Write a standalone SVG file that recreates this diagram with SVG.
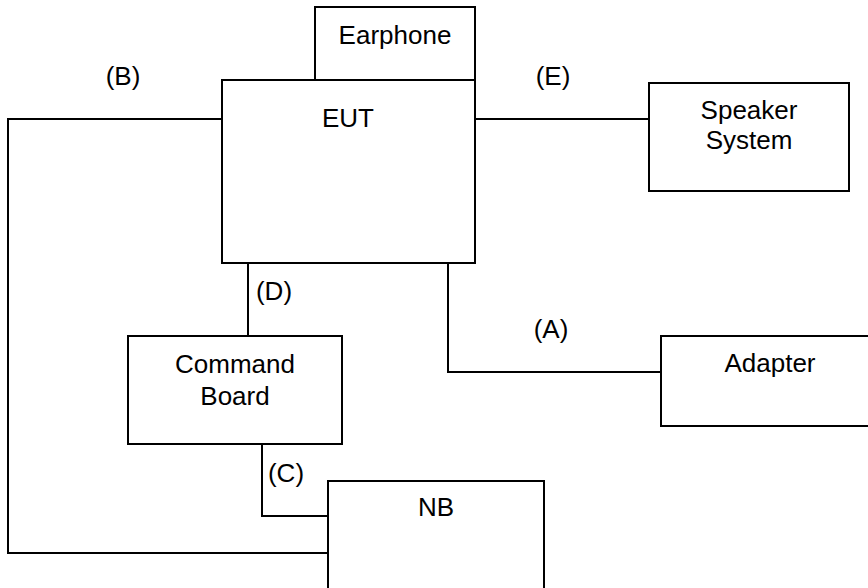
<svg xmlns="http://www.w3.org/2000/svg" width="868" height="588" viewBox="0 0 868 588">
<style>
.box{fill:#fff;stroke:#000;stroke-width:2}
.ln{fill:none;stroke:#000;stroke-width:2}
text{font-family:"Liberation Sans",Arial,sans-serif;font-size:26px;fill:#000;text-anchor:middle}
</style>
<rect width="868" height="588" fill="#fff"/>
<g id="connectors">
<polyline class="ln" points="222,119 8,119 8,553 328,553"/>
<line class="ln" x1="475" y1="119" x2="649" y2="119"/>
<line class="ln" x1="248" y1="263" x2="248" y2="336"/>
<polyline class="ln" points="262,444 262,516 328,516"/>
<polyline class="ln" points="448,263 448,372 661,372"/>
<text x="123" y="85">(B)</text>
<text x="553" y="85">(E)</text>
<text x="274" y="300">(D)</text>
<text x="551" y="338">(A)</text>
<text x="286" y="482">(C)</text>
</g>
<g id="earphone">
<rect class="box" x="315" y="7" width="160" height="73"/>
<text x="395" y="44">Earphone</text>
</g>
<g id="eut">
<rect class="box" x="222" y="80" width="253" height="183"/>
<text x="348" y="127">EUT</text>
</g>
<g id="speaker">
<rect class="box" x="649" y="83" width="200" height="108"/>
<text x="749" y="119">Speaker</text>
<text x="749" y="149">System</text>
</g>
<g id="command-board">
<rect class="box" x="128" y="336" width="214" height="108"/>
<text x="235" y="373">Command</text>
<text x="235" y="405">Board</text>
</g>
<g id="adapter">
<rect class="box" x="661" y="336" width="230" height="90"/>
<text x="770" y="372">Adapter</text>
</g>
<g id="nb">
<rect class="box" x="328" y="481" width="216" height="130"/>
<text x="436" y="516">NB</text>
</g>
</svg>
